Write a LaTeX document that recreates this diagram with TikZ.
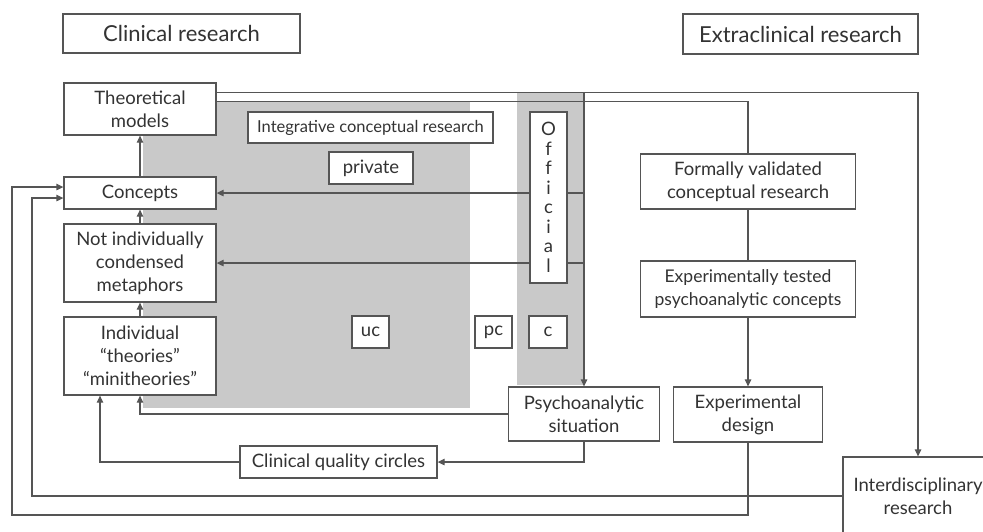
\documentclass[tikz,border=0pt]{standalone}
\usepackage{fontspec}
\setmainfont{Lato}
\usetikzlibrary{calc,arrows.meta,backgrounds}
\definecolor{inkgray}{HTML}{333333}
\definecolor{linegray}{HTML}{555555}
\definecolor{fieldgray}{HTML}{C9C9C9}
\tikzset{
  box/.style={draw=linegray, line width=1.3pt, fill=white, align=center, inner sep=2pt,
    text=inkgray, font=\fontsize{18.5}{23}\selectfont},
  title/.style={box, font=\fontsize{22}{26}\selectfont},
  link/.style={draw=linegray, line width=1.3pt},
  arr/.style={link, -{Triangle[length=7pt,width=6.5pt]}}
}
\begin{document}
\begin{tikzpicture}[x=1pt,y=-1pt]
			%%%%% START %%%%%
			\useasboundingbox (0,0) rectangle (983,531);
			\clip (0,0) rectangle (983,531);
			
			\node[title, minimum width=237, minimum height=39] (clin) at (181.5,33.5) {Clinical research};
			\node[title, minimum width=235, minimum height=40] (extra) at (800.5,34) {Extraclinical research};
			
			\node[box, minimum width=152, minimum height=52] (theo) at (140,109) {Theoretical\\models};
			\node[box, minimum width=152, minimum height=32] (conc) at (140,193) {Concepts};
			\node[box, minimum width=152, minimum height=78] (notind) at (140,263) {Not individually\\condensed\\metaphors};
			\node[box, minimum width=152, minimum height=78] (indiv) at (140,356) {Individual\\``theories''\\``minitheories''};
			
			\node[box, minimum width=245, minimum height=31, font=\fontsize{16.5}{20}\selectfont] (integ) at (370.5,127.5) {Integrative conceptual research};
			\node[box, minimum width=84, minimum height=32] (priv) at (371,168) {private};
			\node[box, minimum width=37, minimum height=171, font=\fontsize{18.5}{19.5}\selectfont] (offic) at (548.5,197.5) {O\\f\\f\\i\\c\\i\\a\\l};
			\node[box, minimum width=37, minimum height=32] (uc) at (370.5,332) {uc};
			\node[box, minimum width=37, minimum height=32] (pc) at (493.5,332) {pc};
			\node[box, minimum width=38, minimum height=32] (cbox) at (548,332) {c};
			
			\node[box, minimum width=151, minimum height=54] (psy) at (584,414) {Psychoanalytic\\situation};
			\node[box, minimum width=197, minimum height=32] (cqc) at (338.5,462) {Clinical quality circles};
			
			\node[box, minimum width=215, minimum height=55] (form) at (748,181.5) {Formally validated\\conceptual research};
			\node[box, minimum width=215, minimum height=56, font=\fontsize{17.5}{23}\selectfont] (exptest) at (748,289) {Experimentally tested\\psychoanalytic concepts};
			\node[box, minimum width=149, minimum height=55] (expdes) at (748,414.5) {Experimental\\design};
			\node[box, minimum width=150, minimum height=78] (inter) at (918,496) {Interdisciplinary\\research};
			
			\begin{scope}[on background layer]
			% shaded fields
			\fill[fieldgray] (143,102) rectangle (470,408);
			\fill[fieldgray] (517,93) rectangle (585,385);
			
			\coordinate (top1) at ($(theo.north east)+(0,10)$);
			\coordinate (top2) at ($(theo.north east)+(0,19)$);
			\coordinate (loopout) at (12,515);
			\coordinate (loopin) at (32,496);
			
			\draw[arr] (top1) -| (inter.north);
			\draw[link] (top2) -| (form.north);
			\draw[arr] (psy.north |- top1) -- (psy.north);
			\draw[arr] (psy.north |- conc.east) -- (conc.east);
			\draw[arr] (psy.north |- notind.east) -- (notind.east);
			
			\draw[arr] (conc.north) -- (theo.south);
			\draw[arr] (notind.north) -- (conc.south);
			\draw[arr] (indiv.north) -- (notind.south);
			
			\draw[arr] (psy.west) -| (indiv.south);
			\draw[arr] (psy.south) |- (cqc.east);
			\draw[arr] (cqc.west) -| ($(indiv.south)+(-40,0)$);
			
			\draw[link] (form.south) -- (exptest.north);
			\draw[arr] (exptest.south) -- (expdes.north);
			
			\draw[arr] (expdes.south) |- (loopout) |- ($(conc.west)+(0,-6)$);
			\draw[arr] (inter.west) -- (loopin) |- ($(conc.west)+(0,5)$);
			\end{scope}
			%%%%% END %%%%%
\end{tikzpicture}
\end{document}
